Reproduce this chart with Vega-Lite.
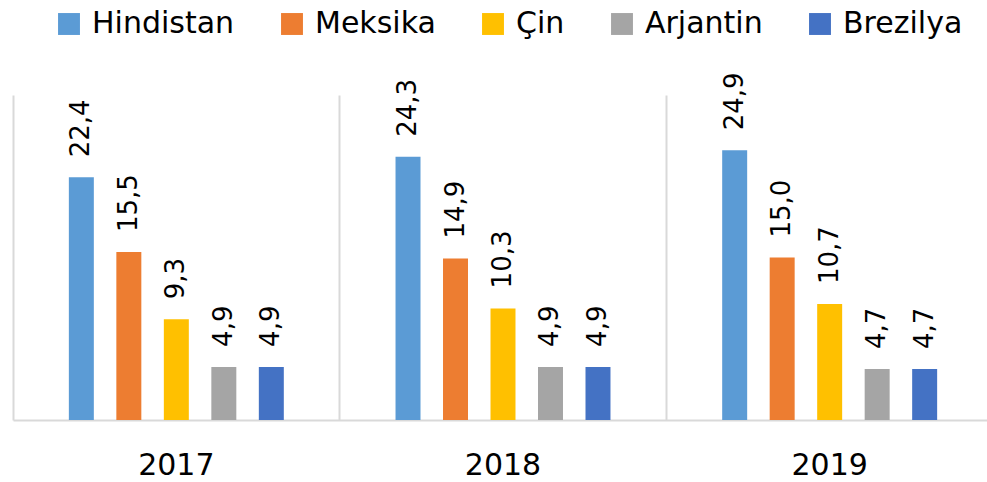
{
  "$schema": "https://vega.github.io/schema/vega-lite/v6.json",
  "autosize": "none",
  "width": 980,
  "height": 325,
  "padding": {"left": 13, "top": 95, "right": 0, "bottom": 62},
  "background": "white",
  "view": {"stroke": null},
  "data": {
    "values": [
      {"yil": "2017", "ulke": "Hindistan", "deger": 22.4, "etiket": "22,4"},
      {"yil": "2017", "ulke": "Meksika", "deger": 15.5, "etiket": "15,5"},
      {"yil": "2017", "ulke": "Çin", "deger": 9.3, "etiket": "9,3"},
      {"yil": "2017", "ulke": "Arjantin", "deger": 4.9, "etiket": "4,9"},
      {"yil": "2017", "ulke": "Brezilya", "deger": 4.9, "etiket": "4,9"},
      {"yil": "2018", "ulke": "Hindistan", "deger": 24.3, "etiket": "24,3"},
      {"yil": "2018", "ulke": "Meksika", "deger": 14.9, "etiket": "14,9"},
      {"yil": "2018", "ulke": "Çin", "deger": 10.3, "etiket": "10,3"},
      {"yil": "2018", "ulke": "Arjantin", "deger": 4.9, "etiket": "4,9"},
      {"yil": "2018", "ulke": "Brezilya", "deger": 4.9, "etiket": "4,9"},
      {"yil": "2019", "ulke": "Hindistan", "deger": 24.9, "etiket": "24,9"},
      {"yil": "2019", "ulke": "Meksika", "deger": 15.0, "etiket": "15,0"},
      {"yil": "2019", "ulke": "Çin", "deger": 10.7, "etiket": "10,7"},
      {"yil": "2019", "ulke": "Arjantin", "deger": 4.7, "etiket": "4,7"},
      {"yil": "2019", "ulke": "Brezilya", "deger": 4.7, "etiket": "4,7"}
    ]
  },
  "encoding": {
    "x": {
      "field": "yil",
      "type": "nominal",
      "title": null,
      "scale": {"paddingInner": 0, "paddingOuter": 0},
      "axis": {
        "labelAngle": 0,
        "labelFont": "DejaVu Sans",
        "labelFontSize": 30,
        "labelColor": "#000000",
        "labelPadding": 30,
        "ticks": false,
        "domainColor": "#d9d9d9",
        "domainWidth": 2,
        "grid": true,
        "gridColor": "#d9d9d9",
        "gridWidth": 2,
        "bandPosition": 0
      }
    },
    "xOffset": {
      "field": "ulke",
      "type": "nominal",
      "scale": {
        "domain": ["_bas", "Hindistan", "Meksika", "Çin", "Arjantin", "Brezilya", "_son"],
        "paddingInner": 0.474,
        "paddingOuter": 0.176
      }
    },
    "y": {
      "field": "deger",
      "type": "quantitative",
      "scale": {"domain": [0, 30], "nice": false},
      "axis": null
    }
  },
  "layer": [
    {
      "mark": {"type": "bar"},
      "encoding": {
        "color": {
          "field": "ulke",
          "type": "nominal",
          "scale": {
            "domain": ["Hindistan", "Meksika", "Çin", "Arjantin", "Brezilya"],
            "range": ["#5B9BD5", "#ED7D31", "#FFC000", "#A5A5A5", "#4472C4"]
          },
          "legend": {
            "title": null,
            "orient": "none",
            "direction": "horizontal",
            "legendX": 41,
            "legendY": -86,
            "padding": 0,
            "symbolType": "square",
            "symbolSize": 480,
            "symbolStrokeWidth": 0,
            "labelFont": "DejaVu Sans",
            "labelFontSize": 30,
            "labelColor": "#000000",
            "labelOffset": 8,
            "columnPadding": 42,
            "labelLimit": 300
          }
        }
      }
    },
    {
      "mark": {
        "type": "text",
        "angle": 270,
        "align": "left",
        "baseline": "middle",
        "dx": 20,
        "font": "DejaVu Sans",
        "fontSize": 26,
        "color": "#000000"
      },
      "encoding": {
        "text": {"field": "etiket"}
      }
    }
  ]
}
